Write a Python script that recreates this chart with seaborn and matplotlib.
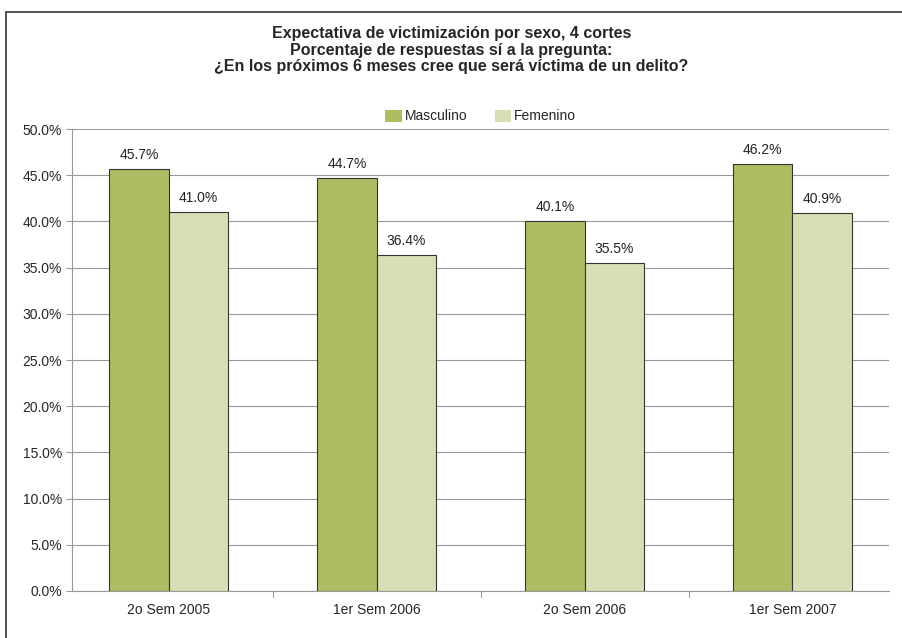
import seaborn as sns
import matplotlib.pyplot as plt
import pandas as pd
from matplotlib.patches import Rectangle
from matplotlib.ticker import FuncFormatter

periodos = ["2o Sem 2005", "1er Sem 2006", "2o Sem 2006", "1er Sem 2007"]
masculino = [45.7, 44.7, 40.1, 46.2]
femenino = [41.0, 36.4, 35.5, 40.9]
sexos = ["Masculino", "Femenino"]
colores = ["#b0bc64", "#d7dfb5"]

df = pd.DataFrame({
    "periodo": periodos * 2,
    "valor": masculino + femenino,
    "sexo": [sexos[0]] * 4 + [sexos[1]] * 4,
})

sns.set_style("white")
plt.rcParams["font.family"] = ["Liberation Sans", "DejaVu Sans"]

fig = plt.figure(figsize=(9.03, 6.38), dpi=100)
ax = fig.add_axes([0.0797, 0.0737, 0.905, 0.724])

sns.barplot(data=df, x="periodo", y="valor", hue="sexo", palette=colores,
            width=0.573, edgecolor="#333333", linewidth=0.8, saturation=1,
            ax=ax, zorder=3)

for cont in ax.containers:
    ax.bar_label(cont, fmt="%.1f%%", padding=5, fontsize=10, color="#222222")

ax.set_ylim(0, 50)
ax.set_yticks([i * 5 for i in range(11)])
ax.yaxis.set_major_formatter(FuncFormatter(lambda v, p: "%.1f%%" % v))
ax.grid(axis="y", color="#999999", linewidth=0.8, zorder=0)
ax.set_xlabel("")
ax.set_ylabel("")
for s in ["top", "right"]:
    ax.spines[s].set_visible(False)
ax.spines["left"].set_color("#999999")
ax.spines["bottom"].set_color("#999999")
ax.tick_params(axis="y", length=4, color="#999999", labelsize=10, left=True, pad=3)
ax.tick_params(axis="x", length=0, labelsize=10, pad=9)
# separadores entre grupos en el eje x
for xs in [0.5, 1.5, 2.5]:
    ax.plot([xs, xs], [0, -0.6], color="#999999", lw=0.8, clip_on=False)

ax.legend(loc="lower center", bbox_to_anchor=(0.5, 0.985), ncol=2, frameon=False,
          fontsize=10, handlelength=1.2, handleheight=1.0, handletextpad=0.2,
          columnspacing=2.0)
for h in ax.get_legend().legend_handles:
    h.set_edgecolor("none")

fig.text(0.5, 0.948, "Expectativa de victimización por sexo, 4 cortes",
         ha="center", va="center", fontsize=11.5, fontweight="bold")
fig.text(0.5, 0.921, "Porcentaje de respuestas sí a la pregunta:",
         ha="center", va="center", fontsize=11.5, fontweight="bold")
fig.text(0.5, 0.895, "¿En los próximos 6 meses cree que será víctima de un delito?",
         ha="center", va="center", fontsize=11.5, fontweight="bold")

fig.patches.append(Rectangle((0.0066, -0.01), 1.2, 0.991, transform=fig.transFigure,
                             fill=False, edgecolor="#333333", linewidth=1.2))

fig.savefig("out.png", dpi=100)
